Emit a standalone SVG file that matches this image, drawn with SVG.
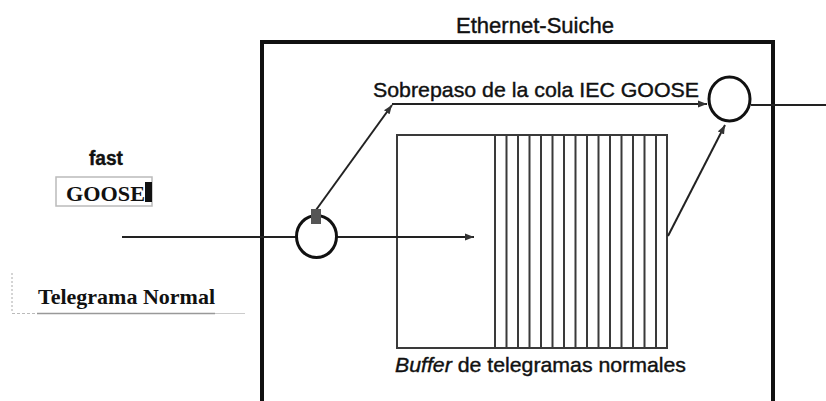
<svg xmlns="http://www.w3.org/2000/svg" width="826" height="401" viewBox="0 0 826 401">
<style>
.sans{font-family:"Liberation Sans",Arial,sans-serif;fill:#111;stroke:#111;stroke-width:0.4}
.serif{font-family:"Liberation Serif","Times New Roman",serif;font-weight:bold;fill:#111}
.ln{stroke:#222;stroke-width:2;fill:none}
.buf{stroke:#3a3a3a;stroke-width:2;fill:none}
.node{stroke:#111;stroke-width:3;fill:#fff}
</style>
<defs>
<marker id="ah" markerWidth="10" markerHeight="8" refX="9" refY="4" orient="auto" markerUnits="userSpaceOnUse">
<path d="M0,0.5 L9,4 L0,7.5 Z" fill="#333"/>
</marker>
</defs>
<rect width="826" height="401" fill="#fff"/>

<g id="switch">
<path d="M262,401 V42 H773 V401" stroke="#111" stroke-width="4" fill="none"/>
<text class="sans" x="535" y="33" font-size="22" text-anchor="middle" textLength="158" lengthAdjust="spacingAndGlyphs">Ethernet-Suiche</text>
</g>

<g id="buffer">
<rect x="397" y="135" width="270" height="213" class="buf"/>
<path class="buf" d="M495,135V348 M506.5,135V348 M518,135V348 M529.5,135V348 M541,135V348 M552.5,135V348 M564,135V348 M575.5,135V348 M587,135V348 M598.5,135V348 M610,135V348 M621.5,135V348 M633,135V348 M644.5,135V348 M656,135V348"/>
<text class="sans" x="395" y="372" font-size="21" textLength="291" lengthAdjust="spacingAndGlyphs"><tspan font-style="italic">Buffer</tspan> de telegramas normales</text>
</g>

<g id="connectors">
<line class="ln" x1="122" y1="237" x2="297" y2="237"/>
<line class="ln" x1="337" y1="237" x2="474" y2="237" marker-end="url(#ah)"/>
<line class="ln" x1="316" y1="210" x2="392" y2="105" marker-end="url(#ah)"/>
<line class="ln" x1="392" y1="104" x2="707" y2="104" marker-end="url(#ah)"/>
<line class="ln" x1="668" y1="236" x2="725" y2="125" marker-end="url(#ah)"/>
<line class="ln" x1="751" y1="105" x2="826" y2="105"/>
</g>

<g id="node-in">
<ellipse cx="316.5" cy="236.5" rx="20" ry="21" class="node"/>
<rect x="311" y="209" width="10" height="15" fill="#555"/>
</g>

<g id="node-out">
<ellipse cx="729.5" cy="99" rx="20.5" ry="22" class="node"/>
</g>

<g id="bypass-label">
<text class="sans" x="373" y="97" font-size="21" textLength="326" lengthAdjust="spacingAndGlyphs">Sobrepaso de la cola IEC GOOSE</text>
</g>

<g id="goose">
<text class="sans" x="89" y="165" font-size="20" font-weight="bold" textLength="34" lengthAdjust="spacingAndGlyphs">fast</text>
<rect x="56" y="177" width="96" height="29" fill="none" stroke="#bbb" stroke-width="1.5"/>
<text class="serif" x="66" y="201" font-size="22" textLength="79" lengthAdjust="spacingAndGlyphs">GOOSE</text>
<rect x="145" y="182" width="7" height="20" fill="#111"/>
</g>

<g id="normal">
<text class="serif" x="38" y="304" font-size="21" textLength="177" lengthAdjust="spacingAndGlyphs">Telegrama Normal</text>
<line x1="12" y1="273" x2="12" y2="313" stroke="#aaa" stroke-width="1" stroke-dasharray="2,2"/>
<line x1="12" y1="313.5" x2="37" y2="313.5" stroke="#bbb" stroke-width="1" stroke-dasharray="3,2"/>
<line x1="37" y1="313.5" x2="215" y2="313.5" stroke="#999" stroke-width="1.5"/>
<line x1="215" y1="313.5" x2="245" y2="313.5" stroke="#ccc" stroke-width="1"/>
</g>
</svg>
